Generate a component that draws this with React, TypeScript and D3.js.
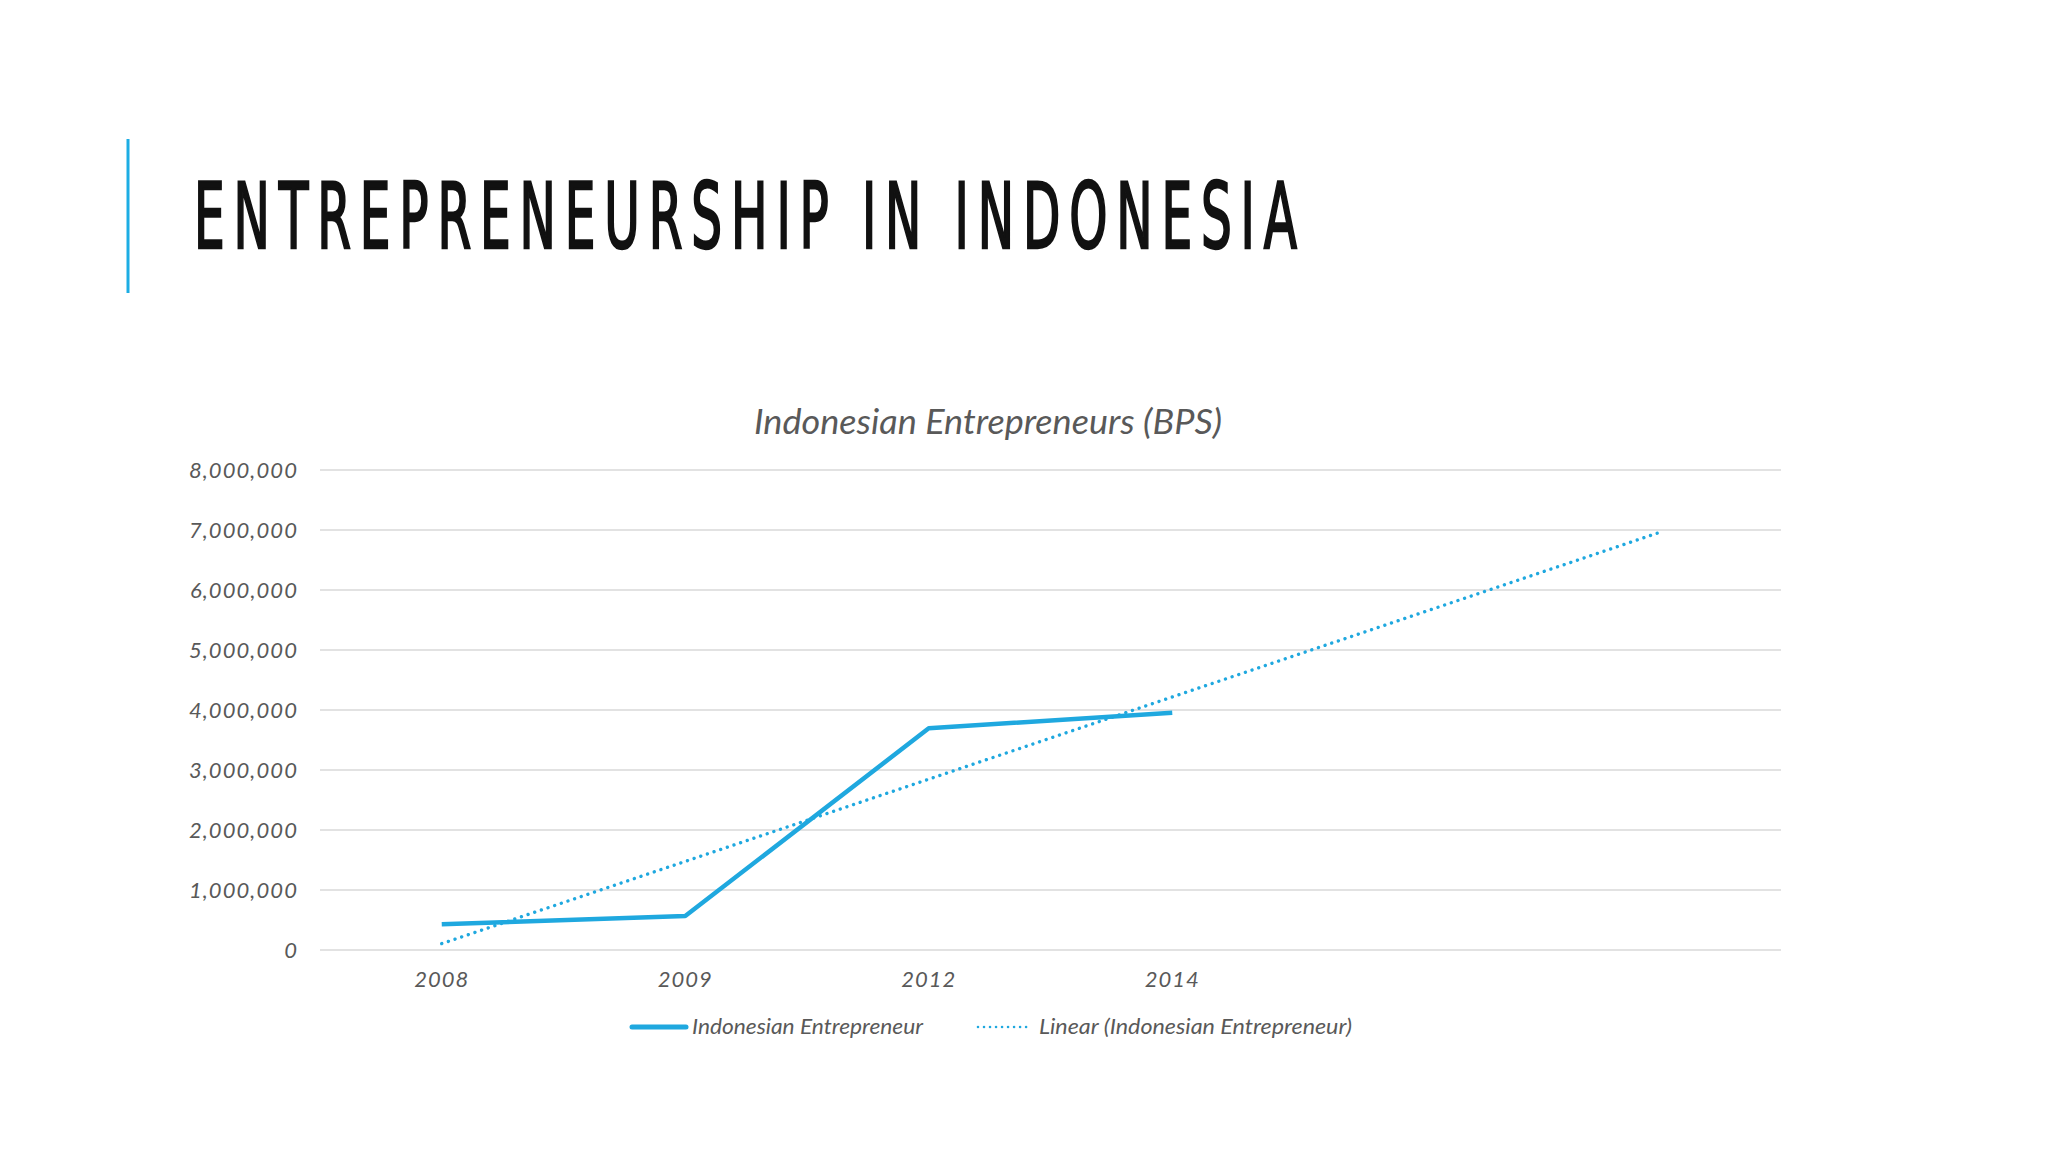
import * as d3 from 'd3';
import { useEffect, useRef } from 'react';

const years = ['2008', '2009', '2012', '2014'];
const entrepreneurs = [430000, 567000, 3695000, 3955000];
const forecastPeriods = 2;
const yTicks = [0, 1000000, 2000000, 3000000, 4000000, 5000000, 6000000, 7000000, 8000000];

const slideTitle = 'ENTREPRENEURSHIP IN INDONESIA';
const chartTitle = 'Indonesian Entrepreneurs (BPS)';
const seriesName = 'Indonesian Entrepreneur';
const trendName = 'Linear (Indonesian Entrepreneur)';

const blue = '#1fa8df';
const gray = '#595959';
const chartFont = 'Lato, "Open Sans", sans-serif';

export default function App() {
  const ref = useRef<SVGSVGElement | null>(null);

  useEffect(() => {
    if (!ref.current) return;
    const svg = d3.select(ref.current);
    svg.selectAll('*').remove();

    const width = 2048;
    const height = 1152;
    const plot = { left: 320, right: 1781, top: 470, bottom: 950 };

    svg.attr('width', width).attr('height', height);
    svg.append('rect').attr('width', width).attr('height', height).attr('fill', '#ffffff');

    // slide header
    svg.append('rect')
      .attr('x', 126.5).attr('y', 139)
      .attr('width', 3).attr('height', 154)
      .attr('fill', '#1cade4');

    // narrow glyphs with wide tracking, like the condensed theme font
    const sx = 0.6;
    svg.append('g')
      .attr('transform', `translate(194,249) scale(${sx},1)`)
      .append('text')
      .attr('x', 0).attr('y', -1)
      .attr('textLength', 1103 / sx)
      .attr('lengthAdjust', 'spacing')
      .style('font-family', '"DejaVu Sans Condensed", "DejaVu Sans", sans-serif')
      .style('font-size', '90px')
      .attr('fill', '#111111')
      .attr('stroke', '#111111')
      .attr('stroke-width', 2.4)
      .text(slideTitle);

    // scales: category slots include the forecast periods of the trendline
    const slots = d3.range(years.length + forecastPeriods);
    const x = d3.scaleBand<number>()
      .domain(slots)
      .range([plot.left, plot.right]);
    const cx = (i: number) => (x(i) ?? 0) + x.bandwidth() / 2;

    const y = d3.scaleLinear()
      .domain([0, 8000000])
      .range([plot.bottom, plot.top]);

    // chart title
    svg.append('text')
      .attr('x', 754).attr('y', 434)
      .attr('textLength', 468)
      .attr('lengthAdjust', 'spacingAndGlyphs')
      .style('font-family', chartFont)
      .style('font-style', 'italic')
      .style('font-size', '35px')
      .attr('fill', gray)
      .text(chartTitle);

    // gridlines + y labels
    const fmt = d3.format(',');
    yTicks.forEach((t) => {
      svg.append('line')
        .attr('x1', plot.left).attr('x2', plot.right)
        .attr('y1', y(t)).attr('y2', y(t))
        .attr('stroke', '#d9d9d9')
        .attr('stroke-width', 1.6);
      svg.append('text')
        .attr('x', 298).attr('y', y(t))
        .attr('dy', '0.36em')
        .attr('text-anchor', 'end')
        .style('font-family', chartFont)
        .style('font-style', 'italic')
        .style('font-size', '22px')
        .style('letter-spacing', '1.1px')
        .attr('fill', gray)
        .text(fmt(t));
    });

    // x labels
    years.forEach((yr, i) => {
      svg.append('text')
        .attr('x', cx(i)).attr('y', 987)
        .attr('text-anchor', 'middle')
        .style('font-family', chartFont)
        .style('font-style', 'italic')
        .style('font-size', '22px')
        .style('letter-spacing', '1px')
        .attr('fill', gray)
        .text(yr);
    });

    // linear trendline (least squares over category index), forecast forward
    const xs = entrepreneurs.map((_, i) => i);
    const mx = d3.mean(xs) ?? 0;
    const my = d3.mean(entrepreneurs) ?? 0;
    const slope = d3.sum(xs, (xi, i) => (xi - mx) * (entrepreneurs[i] - my)) /
      d3.sum(xs, (xi) => (xi - mx) ** 2);
    const intercept = my - slope * mx;
    const trendEnds = [0, slots.length - 1];

    const line = d3.line<[number, number]>()
      .x((d) => cx(d[0]))
      .y((d) => y(d[1]));

    svg.append('path')
      .datum(trendEnds.map((i) => [i, intercept + slope * i] as [number, number]))
      .attr('d', line)
      .attr('fill', 'none')
      .attr('stroke', blue)
      .attr('stroke-width', 3.4)
      .attr('stroke-linecap', 'round')
      .attr('stroke-dasharray', '0.01 7');

    svg.append('path')
      .datum(entrepreneurs.map((v, i) => [i, v] as [number, number]))
      .attr('d', line)
      .attr('fill', 'none')
      .attr('stroke', blue)
      .attr('stroke-width', 4.5)
      .attr('stroke-linejoin', 'round');

    // legend
    const ly = 1027;
    svg.append('line')
      .attr('x1', 632).attr('x2', 686)
      .attr('y1', ly).attr('y2', ly)
      .attr('stroke', blue)
      .attr('stroke-width', 5)
      .attr('stroke-linecap', 'round');
    svg.append('text')
      .attr('x', 692).attr('y', 1034)
      .attr('textLength', 231)
      .attr('lengthAdjust', 'spacingAndGlyphs')
      .style('font-family', chartFont)
      .style('font-style', 'italic')
      .style('font-size', '22px')
      .attr('fill', gray)
      .text(seriesName);

    svg.append('line')
      .attr('x1', 978).attr('x2', 1028)
      .attr('y1', ly).attr('y2', ly)
      .attr('stroke', blue)
      .attr('stroke-width', 2.6)
      .attr('stroke-linecap', 'round')
      .attr('stroke-dasharray', '0.01 6');
    svg.append('text')
      .attr('x', 1039).attr('y', 1034)
      .attr('textLength', 313)
      .attr('lengthAdjust', 'spacingAndGlyphs')
      .style('font-family', chartFont)
      .style('font-style', 'italic')
      .style('font-size', '22px')
      .attr('fill', gray)
      .text(trendName);
  }, []);

  return (
    <svg
      ref={ref}
      viewBox="0 0 2048 1152"
      style={{ position: 'absolute', top: 0, left: 0, display: 'block' }}
    />
  );
}
